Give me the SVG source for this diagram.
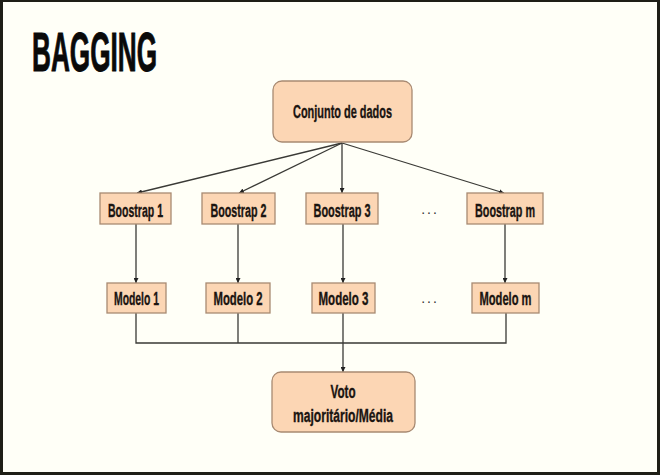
<svg xmlns="http://www.w3.org/2000/svg" width="660" height="475" viewBox="0 0 660 475">
<defs>
<style>
.box{fill:#fcd6b4;stroke:#a88a72;stroke-width:1.3}
.t{font-family:"Liberation Sans",Arial,sans-serif;font-weight:bold;fill:#1a1410;stroke:#1a1410;stroke-width:0.35;text-anchor:middle}
.c{fill:none;stroke:#3a3a36;stroke-width:1.3}
.dots{font-family:"Liberation Sans",Arial,sans-serif;font-size:14px;fill:#333;text-anchor:middle;letter-spacing:2px}
</style>
<marker id="ah" viewBox="0 0 10 10" refX="10" refY="5" markerWidth="5" markerHeight="5" orient="auto" markerUnits="userSpaceOnUse">
<path d="M0,0 L10,5 L0,10 z" fill="#222"/>
</marker>
</defs>
<rect x="0" y="0" width="660" height="475" fill="#1e1e16"/>
<rect x="3" y="2" width="654" height="470" fill="#fffff7"/>
<text x="32" y="71" font-family="'Liberation Sans',Arial,sans-serif" font-weight="bold" font-size="55" fill="#0a0a0a" stroke="#0a0a0a" stroke-width="1" textLength="125" lengthAdjust="spacingAndGlyphs">BAGGING</text>

<g id="connectors">
<line class="c" x1="342" y1="143" x2="137" y2="193" marker-end="url(#ah)"/>
<line class="c" x1="342" y1="143" x2="239" y2="193" marker-end="url(#ah)"/>
<line class="c" x1="342" y1="143" x2="342" y2="193" marker-end="url(#ah)"/>
<line class="c" x1="342" y1="143" x2="504" y2="193" marker-end="url(#ah)"/>
<line class="c" x1="136" y1="224" x2="136" y2="283" marker-end="url(#ah)"/>
<line class="c" x1="238" y1="224" x2="238" y2="283" marker-end="url(#ah)"/>
<line class="c" x1="343" y1="224" x2="343" y2="283" marker-end="url(#ah)"/>
<line class="c" x1="505" y1="224" x2="505" y2="283" marker-end="url(#ah)"/>
<polyline class="c" points="136,313 136,343 506,343 506,313"/>
<line class="c" x1="238" y1="313" x2="238" y2="343"/>
<line class="c" x1="343" y1="313" x2="343" y2="372" marker-end="url(#ah)"/>
</g>

<g id="n-conjunto">
<rect class="box" x="273" y="81" width="139" height="61" rx="9"/>
<text class="t" x="342.5" y="118" font-size="18" textLength="99" lengthAdjust="spacingAndGlyphs">Conjunto de dados</text>
</g>

<g id="n-boostrap1">
<rect class="box" x="100" y="193" width="71" height="31"/>
<text class="t" x="135.5" y="217" font-size="18" textLength="55" lengthAdjust="spacingAndGlyphs">Boostrap 1</text>
</g>
<g id="n-boostrap2">
<rect class="box" x="202" y="193" width="73" height="31"/>
<text class="t" x="238.5" y="217" font-size="18" textLength="56" lengthAdjust="spacingAndGlyphs">Boostrap 2</text>
</g>
<g id="n-boostrap3">
<rect class="box" x="306" y="193" width="72" height="31"/>
<text class="t" x="342" y="217" font-size="18" textLength="57" lengthAdjust="spacingAndGlyphs">Boostrap 3</text>
</g>
<g id="n-boostrapm">
<rect class="box" x="467" y="193" width="76" height="31"/>
<text class="t" x="505" y="217" font-size="18" textLength="60" lengthAdjust="spacingAndGlyphs">Boostrap m</text>
</g>
<text class="dots" x="430" y="214">...</text>

<g id="n-modelo1">
<rect class="box" x="107" y="283" width="59" height="30"/>
<text class="t" x="136.5" y="305" font-size="18" textLength="45" lengthAdjust="spacingAndGlyphs">Modelo 1</text>
</g>
<g id="n-modelo2">
<rect class="box" x="206" y="283" width="64" height="30"/>
<text class="t" x="238" y="305" font-size="18" textLength="49" lengthAdjust="spacingAndGlyphs">Modelo 2</text>
</g>
<g id="n-modelo3">
<rect class="box" x="312" y="283" width="63" height="30"/>
<text class="t" x="343.5" y="305" font-size="18" textLength="50" lengthAdjust="spacingAndGlyphs">Modelo 3</text>
</g>
<g id="n-modelom">
<rect class="box" x="472" y="283" width="67" height="30"/>
<text class="t" x="505.5" y="305" font-size="18" textLength="52" lengthAdjust="spacingAndGlyphs">Modelo m</text>
</g>
<text class="dots" x="430" y="303">...</text>

<g id="n-voto">
<rect class="box" x="272" y="372" width="143" height="60" rx="9"/>
<text class="t" x="343" y="398" font-size="18" textLength="25" lengthAdjust="spacingAndGlyphs">Voto</text>
<text class="t" x="343" y="422" font-size="18" textLength="100" lengthAdjust="spacingAndGlyphs">majoritário/Média</text>
</g>
</svg>
